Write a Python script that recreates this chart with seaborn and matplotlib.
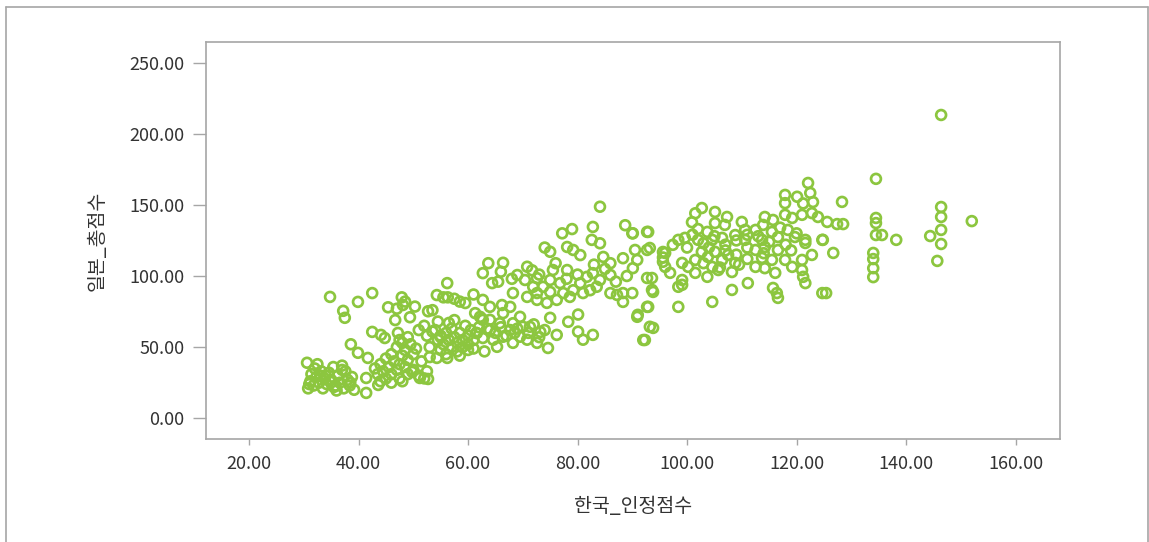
import matplotlib
matplotlib.use("Agg")
import matplotlib.pyplot as plt
from matplotlib.lines import Line2D
import seaborn as sns
import pandas as pd

# 한국_인정점수 (x) and 일본_총점수 (y), grouped by region of the cloud
korea_score = [
    30.6, 30.8, 31.2, 31.4, 31.8, 32.3, 32.0, 32.8, 33.2, 33.5,
    33.8, 34.2, 34.6, 35.0, 35.4, 35.8, 36.2, 36.6, 37.0, 37.3,
    37.6, 38.0, 38.4, 38.8, 39.2, 31.0, 32.5, 34.0, 35.5, 37.0,
    38.5, 36.0, 33.0,
    34.8, 37.2, 37.5, 38.6, 39.9, 39.9, 41.7, 42.5, 42.5, 44.1,
    44.8, 41.4, 41.4, 43.6, 46.7, 47.2, 47.9, 48.1, 45.4, 50.3,
    52.7, 49.4, 43, 43.5, 44, 44.5, 45, 45, 45.5, 46,
    46, 46.5, 47, 47, 47.5, 47.5, 48, 48, 48.5, 48.5,
    49, 49, 49.5, 50, 50, 50.5, 51, 51.5, 52, 52.5,
    53, 46, 44, 48, 49.8, 49, 47.5, 51, 52.5, 53.5,
    51.2, 52.7, 48.5, 47,
    54, 54.5, 55, 55, 55.5, 56, 56, 56.5, 57, 57,
    57.5, 58, 58, 58.5, 59, 59, 59.5, 60, 60, 60.5,
    61, 61, 61.5, 62, 56.5, 57.5, 54.3, 56.2, 58.5, 60,
    55.5, 56.2, 54.3, 56.3, 57.5, 58.5, 59.5, 61, 53.5, 55,
    53, 63, 62.5, 54.5, 52,
    84.1, 88.7, 82.8, 77.2, 79, 82.6, 84.1, 92.7, 90.1, 74,
    75, 78.1, 79.2, 80.5, 66.4, 63.7, 62.7, 64.4, 65.5, 84.7,
    86, 88.3, 90.5, 90.9, 90.1, 92.7, 92.7, 86, 70.8, 71.7,
    69, 70.4, 72.6, 75.5, 78.1, 75, 76.8, 71.9, 73.7, 68.2,
    70.8, 72.6, 75, 77.4, 79.2, 80.5, 81.7, 82.8, 84.1, 81,
    82.3, 78.6, 83.5, 86, 87.2, 88.3, 90, 88.3, 90.9, 92.7,
    92, 93.2, 82.8, 81, 80.1, 78.3, 80.1, 75, 76.2, 74.6,
    73.2, 71.3, 69.5, 67.7, 66.2, 64, 62.7, 62.2, 64, 65.8,
    67.7, 69.5, 66.4, 64.6, 62.7, 61.6, 65.3, 68.2, 70.8, 72.6,
    70, 68.2, 64, 62.7, 72.6, 74.4, 76.2, 61.3, 66.4, 90,
    63.5, 65, 66, 67, 68.5, 69, 71, 72, 73, 74,
    66, 68, 73, 76, 78, 80, 83, 85, 87, 89,
    122.1, 117.9, 120.1, 122.5, 123, 117.9, 121.2, 102.7, 105.1, 101.5,
    100.9, 107.3, 105.1, 106.9, 110, 114.2, 113.9, 115.7, 117.9, 119.2,
    121, 122.8, 123.9, 92.9, 93.2, 98.4, 99.6, 97.4, 103.7, 102,
    104.6, 106.4, 108.8, 110.6, 110.6, 112.5, 113.7, 115.5, 116.6, 118.4,
    119.7, 121.6, 124.7, 96, 96, 96.9, 99.1, 100.2, 101.5, 102.7,
    103.8, 105.1, 106.4, 107.5, 108.8, 104.6, 101.5, 103.7, 105.7, 108.2,
    99.1, 98.4, 93.6, 93.6, 98.4, 104.6, 108.2, 92.9, 112.5, 114.2,
    116.6, 113.7, 115.5, 112.5, 114.2, 117.9, 119.2, 121, 122.8, 121.6,
    116.1, 115.7, 116.4, 116.6, 121, 121.2, 121.6, 124.7, 95.6, 95.6,
    95.6, 99.1, 91, 93.8, 92.3, 93.8, 111.1, 109.5, 111, 104,
    100, 101, 103, 105, 107, 109, 111, 113, 115, 117,
    118, 120, 103, 106, 109, 111, 119, 114, 107, 102,
    146.4, 134.5, 128.3, 146.4, 146.4, 146.4, 146.4, 145.7, 144.4, 152,
    134.5, 134.5, 134.5, 135.6, 138.2, 134, 134, 134, 134, 125.6,
    127.4, 128.5, 124.8, 126.7, 125.4,
]
japan_score = [
    39, 21, 26, 31, 23, 29, 35, 25, 33, 21,
    28, 24, 32, 27, 36, 23, 30, 25, 37, 21,
    33, 27, 23, 29, 20, 24, 38, 30, 22, 34,
    25, 19.5, 30,
    85.3, 75.5, 70.6, 52, 46, 81.8, 42.4, 88, 60.7, 58.6,
    56.4, 28.3, 17.8, 23.4, 69, 60, 85, 79.6, 78, 78.5,
    75.2, 71, 35, 31, 38, 33, 28, 42, 36, 31,
    45, 40, 34, 50, 38, 28, 44, 53, 36, 48,
    41, 31, 52, 45, 34, 49, 30, 40, 28, 33,
    43, 25, 26, 26, 32.6, 57, 55, 62, 58, 61,
    28.3, 27.6, 82, 77,
    62, 55, 58, 48, 52, 60, 45, 55, 50, 63,
    57, 53, 47, 60, 55, 50, 65, 58, 52, 62,
    55, 49, 60, 64, 67, 69, 42.4, 42.4, 44, 48,
    85, 95, 86.6, 85, 84, 82, 81, 87, 76, 57,
    50, 47, 70, 68, 65,
    148.7, 135.7, 134.5, 130, 133, 125.4, 123, 131, 130, 120,
    117, 120.4, 118.3, 114.7, 109.3, 109, 102, 95, 96, 113.4,
    109, 112.5, 118.3, 111.3, 105.5, 118.3, 98.6, 100.7, 106.5, 104,
    100.7, 97.2, 98.5, 104.2, 104.2, 97.2, 95, 92.4, 92.4, 88,
    85.3, 88, 88.8, 88, 90, 95, 99.4, 102, 97.2, 88,
    90, 85.3, 92.4, 88, 86.7, 88, 88, 81.8, 71.3, 78.3,
    55, 64.3, 58.6, 55.2, 60.9, 67.8, 72.9, 70.6, 58.6, 49.4,
    60.7, 64.3, 71.3, 78.3, 79.6, 78.3, 83.2, 71.3, 69.2, 66.8,
    62, 57.3, 57.3, 55.2, 56.4, 59.9, 50.2, 53, 55.2, 53,
    64.3, 66.8, 62, 69.2, 83.2, 81.1, 83.2, 73.9, 73.9, 130,
    63, 60, 64, 58, 60, 63, 60, 66, 57, 62,
    103, 98, 101, 109, 98, 101, 108, 105, 96, 100,
    165.4, 157, 155.7, 158.4, 152, 151.2, 151, 147.8, 145, 144.1,
    137.8, 141.5, 137.2, 135.9, 138, 141.5, 135.9, 139.4, 143, 140.8,
    143, 144.2, 141.5, 131, 119.7, 125.4, 126.8, 121.9, 131, 125.4,
    125.4, 126.8, 128.8, 132.4, 125.4, 132.4, 125.4, 131, 127.4, 132.4,
    127.4, 125.4, 125.4, 116.2, 106.4, 102.2, 109.2, 106.4, 111.3, 117,
    113.4, 117, 111.3, 114.8, 109.2, 106.4, 102.2, 99.4, 104.2, 102.8,
    97.2, 92.4, 98.6, 90.2, 78.3, 81.8, 90.2, 78.3, 118.3, 120.4,
    118.3, 112.7, 111.3, 106.4, 105.5, 111.3, 106.4, 111.3, 114.8, 123.2,
    102.2, 91.6, 88, 84.6, 104.2, 99.4, 95, 88, 116.9, 113,
    110, 93.8, 72.7, 63.5, 55, 88.8, 95, 108, 120, 120,
    120, 129, 123, 128, 122, 125, 129, 128, 124, 134,
    122, 130, 109, 106, 115, 112, 118, 116, 118, 133,
    213.2, 168.3, 152.1, 148.5, 141.5, 132.4, 122.5, 110.6, 128.1, 138.6,
    140.8, 137.2, 128.8, 128.8, 125.4, 116.2, 111.9, 105.5, 99.2, 138,
    136.5, 136.5, 125.4, 116.2, 88,
]

x_ticks = [20, 40, 60, 80, 100, 120, 140, 160]
y_ticks = [0, 50, 100, 150, 200, 250]
x_label = "한국_인정점수"
y_label = "일본_총점수"

df = pd.DataFrame({x_label: korea_score, y_label: japan_score})

sns.set_style("white")
plt.rcParams["font.family"] = ["Noto Sans CJK KR", "DejaVu Sans"]

GREEN = "#8cc63f"
GREY = "#a6a6a6"
TEXT = "#333333"

fig = plt.figure(figsize=(11.49, 5.42), dpi=100)
ax = fig.add_axes([0.1793, 0.1895, 0.7432, 0.733])

sns.scatterplot(data=df, x=x_label, y=y_label, ax=ax,
                marker="o", s=50, facecolors="none", edgecolor=GREEN,
                linewidth=1.95, legend=False)

ax.set_xlim(12.15, 168.1)
ax.set_ylim(-14.8, 264.5)
ax.set_xticks(x_ticks)
ax.set_yticks(y_ticks)
ax.set_xticklabels([f"{v:.2f}" for v in x_ticks])
ax.set_yticklabels([f"{v:.2f}" for v in y_ticks])

for sp in ax.spines.values():
    sp.set_visible(True)
    sp.set_color(GREY)
    sp.set_linewidth(1.2)

ax.tick_params(axis="y", direction="out", length=9.5, width=1, color=GREY,
               labelsize=13, labelcolor=TEXT, pad=6, left=True)
ax.tick_params(axis="x", direction="out", length=4, width=1, color=GREY,
               labelsize=13, labelcolor=TEXT, pad=7, bottom=True)

ax.set_xlabel(x_label, fontsize=14, color=TEXT, labelpad=17)
ax.set_ylabel(y_label, fontsize=14, color=TEXT, labelpad=16)

# outer frame around the chart
fig.add_artist(Line2D([6 / 1149, 6 / 1149], [0, 1 - 7 / 542], transform=fig.transFigure,
                      color=GREY, linewidth=1.2))
fig.add_artist(Line2D([6 / 1149, 1148 / 1149], [1 - 7 / 542, 1 - 7 / 542], transform=fig.transFigure,
                      color=GREY, linewidth=1.2))
fig.add_artist(Line2D([1148 / 1149, 1148 / 1149], [0, 1 - 7 / 542], transform=fig.transFigure,
                      color=GREY, linewidth=1.2))

fig.savefig("out.png", dpi=100)
